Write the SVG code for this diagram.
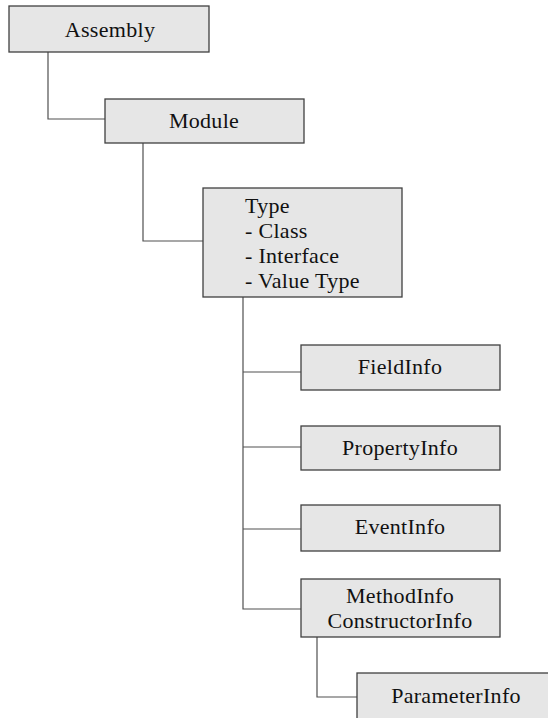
<svg xmlns="http://www.w3.org/2000/svg" width="548" height="718" viewBox="0 0 548 718">
  <style>
    .box { fill: #e6e6e6; stroke: #404040; stroke-width: 1.3; }
    .link { fill: none; stroke: #505050; stroke-width: 1.2; }
    text { font-family: "Liberation Serif", "Times New Roman", serif; font-size: 22px; letter-spacing: 0.3px; fill: #111; }
    .c { text-anchor: middle; }
  </style>

  <g id="connectors">
    <polyline class="link" points="48,52 48,119 105,119"/>
    <polyline class="link" points="143,143 143,241 203,241"/>
    <polyline class="link" points="243,297 243,609 301,609"/>
    <line class="link" x1="243" y1="372" x2="301" y2="372"/>
    <line class="link" x1="243" y1="447" x2="301" y2="447"/>
    <line class="link" x1="243" y1="529" x2="301" y2="529"/>
    <polyline class="link" points="317,637 317,697 357,697"/>
  </g>

  <g id="assembly">
    <rect class="box" x="9" y="6" width="200" height="46"/>
    <text class="c" x="110" y="37">Assembly</text>
  </g>

  <g id="module">
    <rect class="box" x="105" y="99" width="199" height="44"/>
    <text class="c" x="204" y="128">Module</text>
  </g>

  <g id="type">
    <rect class="box" x="203" y="188" width="199" height="109"/>
    <text x="245" y="213">Type</text>
    <text x="245" y="238">- Class</text>
    <text x="245" y="263">- Interface</text>
    <text x="245" y="288">- Value Type</text>
  </g>

  <g id="fieldinfo">
    <rect class="box" x="301" y="345" width="199" height="45"/>
    <text class="c" x="400" y="374">FieldInfo</text>
  </g>

  <g id="propertyinfo">
    <rect class="box" x="301" y="426" width="199" height="44"/>
    <text class="c" x="400" y="455">PropertyInfo</text>
  </g>

  <g id="eventinfo">
    <rect class="box" x="301" y="505" width="199" height="46"/>
    <text class="c" x="400" y="534">EventInfo</text>
  </g>

  <g id="methodinfo">
    <rect class="box" x="301" y="579" width="199" height="58"/>
    <text class="c" x="400" y="603">MethodInfo</text>
    <text class="c" x="400" y="628">ConstructorInfo</text>
  </g>

  <g id="parameterinfo">
    <rect class="box" x="357" y="673" width="200" height="60"/>
    <text class="c" x="456" y="703">ParameterInfo</text>
  </g>
</svg>
